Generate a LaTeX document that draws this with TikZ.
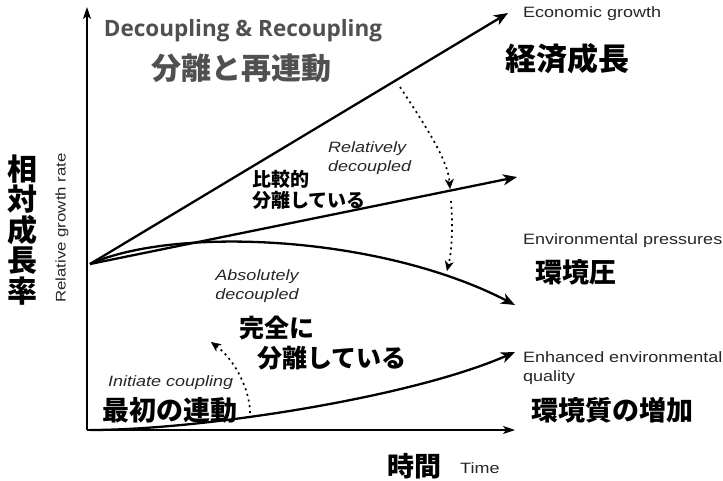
\documentclass[tikz,border=0pt]{standalone}
\usepackage{fontspec}
\setmainfont{Liberation Sans}
\newfontfamily\en[FakeStretch=1.2]{Liberation Sans}
\newfontfamily\jp{Noto Sans CJK JP}
\newfontfamily\ttl{Open Sans}
\usetikzlibrary{arrows.meta}
\definecolor{ttlgray}{HTML}{505050}
\tikzset{
  axis/.style={line width=1.2pt,-{Stealth[length=12pt,width=8pt,inset=3pt]}},
  curve/.style={line width=2.3pt,-{Stealth[length=14pt,width=11pt,inset=4pt]}},
  dots/.style={line width=1.7pt,dash pattern=on 2pt off 3.8pt,-{Stealth[length=10pt,width=9pt,inset=3pt,line width=0.5pt]}},
  enlab/.style={inner sep=0pt,text=black!85,font=\en\fontsize{15}{18}\selectfont},
  enit/.style={enlab,font=\en\itshape\fontsize{15}{19}\selectfont},
  jplab/.style={inner sep=0pt,font=\jp\bfseries\fontsize{#1}{#1}\selectfont},
}
\begin{document}
\begin{tikzpicture}[x=1pt,y=-1pt]
\useasboundingbox (0,0) rectangle (723,480);
% axes
\coordinate (org) at (87,430);
\coordinate (ytop) at (87,7);
\coordinate (xend) at (515,430);
\draw[axis] (org) -- (ytop);
\draw[axis] (org) -- (xend);
% curves
\coordinate (O) at (90,264);
\coordinate (eg) at (508,13);
\coordinate (rd) at (517,177);
\coordinate (ep) at (515,305);
\coordinate (B) at (90,430);
\coordinate (eq) at (515,352);
\draw[curve] (O) -- (eg);
\draw[curve] (O) -- (rd);
\draw[curve] (O) .. controls (175,226) and (380,235) .. (ep);
\draw[curve] (B) .. controls (200,430) and (410,398) .. (eq);
% dotted arrows
\coordinate (d1a) at (400,87);
\coordinate (d1b) at (450,189);
\coordinate (d2a) at (451,201);
\coordinate (d2b) at (447,271);
\coordinate (d3a) at (250,413);
\coordinate (d3b) at (211,342);
\draw[dots] (d1a) .. controls (425,125) and (448,160) .. (d1b);
\draw[dots] (d2a) .. controls (453,225) and (452,250) .. (d2b);
\draw[dots] (d3a) .. controls (250,390) and (235,360) .. (d3b);
% titles
\node[inner sep=0pt,text=ttlgray,font=\ttl\bfseries\fontsize{22.5}{24}\selectfont] (title) at (243,31) {Decoupling \& Recoupling};
\node[jplab=30,text=ttlgray] (titlejp) at (241,68) {分離と再連動};
% axis labels
\node[enlab,font=\en\fontsize{14}{16}\selectfont,rotate=90] (ylab) at (62,228) {Relative growth rate};
\node[jplab=30,align=center,font=\jp\bfseries\fontsize{30}{30.5}\selectfont] (yjp) at (22,230) {相\\対\\成\\長\\率};
\node[jplab=27] (xjp) at (414,466) {時間};
\node[enlab,anchor=west] (xlab) at (460,468) {Time};
% right labels
\node[enlab,anchor=west] (egl) at (523,14) {Economic growth};
\node[jplab=31] (egjp) at (567,59) {経済成長};
\node[enlab,anchor=west] (epl) at (523,241) {Environmental pressures};
\node[jplab=27,anchor=west] (epjp) at (535,272) {環境圧};
\node[enlab,anchor=west] (eql) at (523,357) {Enhanced environmental};
\node[enlab,anchor=west] (eql2) at (523,378) {quality};
\node[jplab=27,anchor=west] (eqjp) at (531,410) {環境質の増加};
% inner labels
\node[enit,anchor=west,align=left] (rel) at (328,158) {Relatively\\decoupled};
\node[jplab=19,anchor=west,align=left,font=\jp\bfseries\fontsize{19}{20.5}\selectfont] (reljp) at (252,190) {比較的\\分離している};
\node[enit,align=center] (abs) at (257,286) {Absolutely\\decoupled};
\node[jplab=25,anchor=west] (absjp1) at (239,328) {完全に};
\node[jplab=25,anchor=west] (absjp2) at (257,358) {分離している};
\node[enit,anchor=west] (ini) at (108,383) {Initiate coupling};
\node[jplab=27,anchor=west] (inijp) at (102,410) {最初の連動};
\end{tikzpicture}
\end{document}
